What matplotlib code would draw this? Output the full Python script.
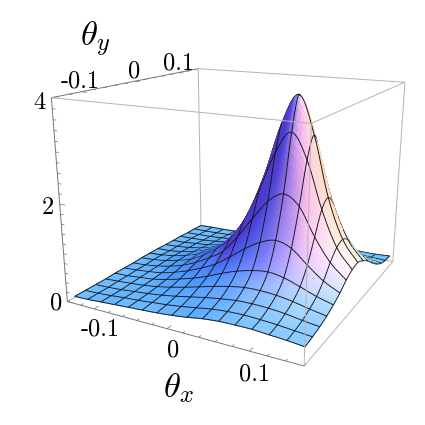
import numpy as np, matplotlib
matplotlib.use('Agg')
import matplotlib.pyplot as plt
from mpl_toolkits.mplot3d.art3d import Poly3DCollection
from mpl_toolkits.mplot3d import proj3d

# ---- data ----
theta_x = [-0.14, -0.1203, -0.1007, -0.081, -0.0613, -0.0417, -0.022, -0.0023,
           0.0174, 0.037, 0.0567, 0.0764, 0.096, 0.1157, 0.1354, 0.155]
theta_y = [-0.135, -0.1159, -0.0967, -0.0776, -0.0585, -0.0394, -0.0202, -0.0011,
           0.018, 0.0372, 0.0563, 0.0754, 0.0946, 0.1137, 0.1328, 0.152]
z_rows = [
 [.02,.02,.02,.02,.03,.03,.03,.04,.04,.04,.03,.03,.03,.02,.02,.01],
 [.03,.03,.03,.04,.04,.05,.05,.06,.06,.05,.05,.04,.04,.03,.02,.02],
 [.05,.05,.05,.06,.07,.08,.09,.10,.10,.09,.08,.07,.05,.04,.03,.02],
 [.07,.08,.08,.09,.10,.12,.15,.17,.17,.15,.13,.10,.08,.06,.04,.03],
 [.09,.10,.11,.13,.16,.20,.24,.26,.27,.25,.21,.16,.12,.09,.06,.04],
 [.11,.13,.15,.19,.24,.30,.37,.42,.43,.40,.32,.24,.17,.12,.08,.05],
 [.13,.16,.20,.26,.33,.43,.54,.63,.66,.60,.47,.35,.24,.16,.11,.07],
 [.16,.20,.26,.34,.44,.58,.75,.92,1.00,.88,.68,.49,.33,.22,.15,.09],
 [.20,.25,.32,.42,.57,.80,1.12,1.40,1.52,1.32,.98,.68,.44,.29,.19,.12],
 [.25,.30,.37,.49,.68,1.03,1.55,2.08,2.35,1.98,1.36,.90,.56,.35,.22,.14],
 [.28,.33,.41,.54,.76,1.22,1.95,2.86,3.40,2.80,1.82,1.10,.62,.36,.23,.14],
 [.29,.34,.42,.55,.80,1.32,2.15,3.28,3.95,3.20,2.08,1.20,.62,.33,.20,.12],
 [.29,.33,.41,.53,.75,1.22,1.95,2.78,3.20,2.68,1.76,1.05,.58,.32,.19,.11],
 [.27,.31,.38,.48,.64,.95,1.40,1.85,2.00,1.75,1.26,.80,.48,.28,.16,.10],
 [.25,.28,.33,.41,.52,.70,.95,1.14,1.20,1.08,.84,.58,.38,.23,.14,.10],
 [.22,.25,.29,.35,.43,.53,.66,.75,.78,.70,.58,.42,.28,.18,.13,.12],
]
x_ticks = [-0.1, 0, 0.1]; x_tick_labels = ['-0.1', '0', '0.1']
y_ticks = [-0.1, 0, 0.1]; y_tick_labels = ['-0.1', '0', '0.1']
z_ticks = [0, 2, 4];      z_tick_labels = ['0', '2', '4']

xl = (-0.14, 0.16); yl = (-0.148, 0.152); zl = (0, 4)
plt.rcParams['mathtext.fontset'] = 'cm'

fig = plt.figure(figsize=(4.25, 4.25), dpi=100)
ax = fig.add_axes([39.49/425, 34.8/425, 392.39/425, 392.39/425], projection='3d', computed_zorder=False)
ax.set_xlim(*xl); ax.set_ylim(*yl); ax.set_zlim(*zl)
ax.view_init(16.513, -61.723, 0)
ax.set_proj_type('persp', focal_length=0.326)
BOX = (1, 0.996, 0.797)
ax.set_box_aspect(BOX)
ax.set_xticks([]); ax.set_yticks([]); ax.set_zticks([])
ax.set_axis_off()
ax.patch.set_alpha(0)
M = ax.get_proj()
u, v, w = ax._view_u, ax._view_v, ax._view_w
eye = np.linalg.solve(M[[0, 1, 3], :3], -M[[0, 1, 3], 3])

# smooth refinement of the mesh between the table nodes, for drawing
N = 6
def cr(A, axis):
    A = np.moveaxis(A, axis, 0)
    P = np.concatenate([2*A[:1]-A[1:2], A, 2*A[-1:]-A[-2:-1]], 0)
    t = (np.arange(N)/N).reshape((-1,)+(1,)*(A.ndim-1))
    out = []
    for i in range(1, len(A)):
        a, b, c, d = P[i-1], P[i], P[i+1], P[i+2]
        out.append(0.5*(2*b+(c-a)*t+(2*a-5*b+4*c-d)*t**2+(3*b-a-3*c+d)*t**3))
    out = np.concatenate(out+[A[-1:]], 0)
    return np.moveaxis(out, 0, axis)
xa = np.array(theta_x); ya = np.array(theta_y); Z0 = np.array(z_rows)
Zf = cr(cr(Z0, 0), 1)
Zf = np.maximum(Zf, 0)
Xf, Yf = np.meshgrid(cr(xa, 0), cr(ya, 0), indexing='ij')

# lighting in view coordinates
def box(A, lim, s):
    return (A-lim[0])/(lim[1]-lim[0])*s
bx, by, bz = box(Xf, xl, BOX[0]), box(Yf, yl, BOX[1]), box(Zf, zl, BOX[2])
du = np.stack([np.gradient(bx, axis=0), np.gradient(by, axis=0), np.gradient(bz, axis=0)], -1)
dv = np.stack([np.gradient(bx, axis=1), np.gradient(by, axis=1), np.gradient(bz, axis=1)], -1)
n = np.cross(du, dv); n /= np.linalg.norm(n, axis=-1, keepdims=True)
lights = [((1, 0, 1), (0.82, 0, 0)), ((1, 1, 1), (0, 0.74, 0)), ((0, 1, 1), (0, 0, 0.52))]
rgb = np.array([0.3, 0.23, 0.55])*np.ones(n.shape)
for l, c in lights:
    L = np.array(l, float)/np.linalg.norm(l)
    Lw = L[0]*u+L[1]*v+L[2]*w
    d = np.clip((n*Lw).sum(-1), 0, None)
    rgb += d[..., None]*np.array(c)
rgb = np.clip(rgb, 0, 1)

polys, fc, ec = [], [], []
nx, ny = Zf.shape
for i in range(nx-1):
    for j in range(ny-1):
        polys.append([(Xf[a, b], Yf[a, b], Zf[a, b]) for a, b in ((i, j), (i+1, j), (i+1, j+1), (i, j+1))])
        col = tuple(rgb[i:i+2, j:j+2].mean((0, 1)))+(1.0,)
        fc.append(col); ec.append(col)
def lift(p):
    p = np.array(p, float)
    return p+0.006*(eye-p)
black = (0.08, 0.08, 0.1, 1.0); none = (0, 0, 0, 0)
for i in range(0, nx, N):
    for j in range(ny-1):
        polys.append([lift((Xf[i, k], Yf[i, k], Zf[i, k])) for k in (j, j+1)]); fc.append(none); ec.append(black)
for j in range(0, ny, N):
    for i in range(nx-1):
        polys.append([lift((Xf[k, j], Yf[k, j], Zf[k, j])) for k in (i, i+1)]); fc.append(none); ec.append(black)

surf = Poly3DCollection(polys, facecolors=fc, edgecolors=ec, linewidths=0.68, zsort='average', zorder=3)
ax.add_collection3d(surf)

# box
GREY = '#b4b4b4'; AX = '#777777'
x0, x1 = xl; y0, y1 = yl; z0, z1 = zl
def seg(a, b, c, z, lw=0.7):
    ax.plot(*zip(a, b), color=c, lw=lw, zorder=z, solid_capstyle='butt')
back = [((x0, y1, z0), (x0, y1, z1)), ((x0, y1, z1), (x1, y1, z1)), ((x1, y1, z0), (x1, y1, z1)),
        ((x0, y1, z0), (x1, y1, z0)), ((x0, y0, z0), (x0, y1, z0)), ((x1, y0, z0), (x1, y1, z0))]
for a, b in back: seg(a, b, GREY, 1)
front = [((x0, y0, z1), (x1, y0, z1)), ((x1, y0, z1), (x1, y1, z1)), ((x1, y0, z0), (x1, y0, z1))]
for a, b in front: seg(a, b, GREY, 5)
for a, b in [((x0, y0, z0), (x1, y0, z0)), ((x0, y0, z0), (x0, y0, z1)), ((x0, y0, z1), (x0, y1, z1))]:
    seg(a, b, AX, 2)

# ticks
for t in np.arange(-0.14, 0.161, 0.02):
    m = min(abs(t-k) for k in x_ticks) < 1e-6
    seg((t, y0, z0), (t, y0+(0.008 if m else 0.0045), z0), AX, 2, 0.55)
for t in np.arange(-0.14, 0.151, 0.02):
    m = min(abs(t-k) for k in y_ticks) < 1e-6
    seg((x0, t, z1), (x0+(0.008 if m else 0.0045), t, z1), AX, 2, 0.55)
for t in np.arange(0, 4.01, 0.2):
    m = min(abs(t-k) for k in z_ticks) < 1e-6
    seg((x0, y0, t), (x0+(0.008 if m else 0.0045), y0, t), AX, 2, 0.55)

def label(x, y, z, s, **kw):
    px, py, _ = proj3d.proj_transform(x, y, z, M)
    ax.text2D(px, py, s, transform=ax.transData, ha='center', va='center', **kw)
FS = 17.5
for t, s in zip(x_ticks, x_tick_labels):
    label(t+0.0065, y0, -0.41, s, family='cmr10', fontsize=FS)
for t, s in zip(y_ticks, y_tick_labels):
    label(x0, t, 4.2, s, family='cmr10', fontsize=FS)
for t, s in zip(z_ticks, z_tick_labels):
    label(x0-0.018, y0, t-0.12, s, family='cmr10', fontsize=FS)
label(0.012, y0, -1.15, r'$\theta_x$', fontsize=25)
label(x0, -0.07, 4.94, r'$\theta_y$', fontsize=25)

fig.savefig('out.png', dpi=100)
